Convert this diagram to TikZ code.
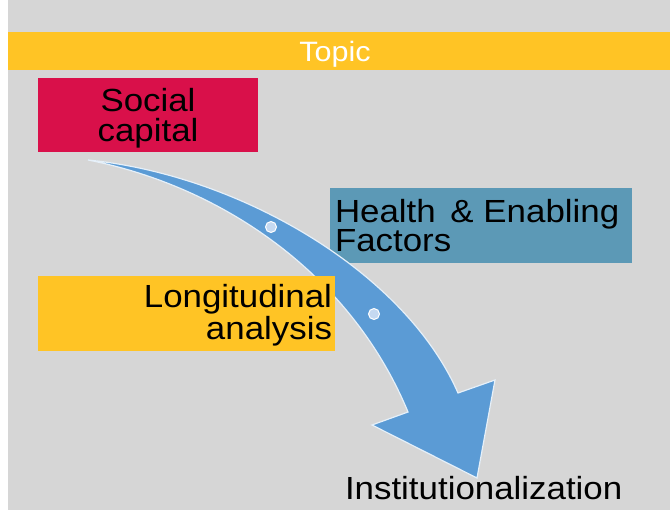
\documentclass[tikz,border=0pt]{standalone}
\usepackage{fontspec}
\setmainfont{Liberation Sans}[FakeStretch=1.09]
\definecolor{bggray}{HTML}{D6D6D6}
\definecolor{topicyel}{HTML}{FFC425}
\definecolor{crimson}{HTML}{D9104A}
\definecolor{steel}{HTML}{5C99B6}
\definecolor{arrowblue}{HTML}{5B9BD5}
\definecolor{dotfill}{HTML}{C5D9F1}
\begin{document}
\begin{tikzpicture}[x=1pt,y=-1pt,
  panel/.style={inner sep=0, outer sep=0, anchor=north west},
  bigtext/.style={inner sep=0, outer sep=0, text=black, font=\fontsize{32}{30}\selectfont},
  stepdot/.style={circle, fill=dotfill, draw=white, line width=1pt, minimum size=11pt, inner sep=0}]
\useasboundingbox (0,0) rectangle (670,510);
\fill[white] (0,0) rectangle (670,510);
\fill[bggray] (8,0) rectangle (670,510);
% topic bar
\node[panel, fill=topicyel, minimum width=662pt, minimum height=38pt] (topicbar) at (8,32) {};
\node[inner sep=0, text=white, font=\fontsize{28}{30}\selectfont, anchor=base] (topic) at (335,62) {Topic};
% social capital
\node[panel, fill=crimson, minimum width=220pt, minimum height=74pt] (social) at (38,78) {};
\node[bigtext, anchor=base] (socialA) at (148,112) {Social};
\node[bigtext, anchor=base] (socialB) at (148,142) {capital};
% health box
\node[panel, fill=steel, minimum width=302pt, minimum height=75pt] (health) at (330,188) {};
\node[bigtext, anchor=base west] (healthA) at (335,223) {Health\hspace{5pt} \& Enabling};
\node[bigtext, anchor=base west] (healthB) at (335,252) {Factors};
% arrow
\coordinate (tail) at (88,160);
\coordinate (jr) at (458,393);
\coordinate (hr) at (495,380);
\coordinate (tip) at (477,478);
\coordinate (hl) at (372,425);
\coordinate (jl) at (408,412);
\fill[arrowblue, draw=white!85!arrowblue, line width=1.2pt, line join=miter]
  (tail) .. controls (240,175) and (405,272) .. (jr)
  -- (hr) -- (tip) -- (hl) -- (jl)
  .. controls (350,272) and (220,186) .. (tail) -- cycle;
\node[stepdot] (dot1) at (271,227) {};
\node[stepdot] (dot2) at (374,314) {};
% longitudinal box
\node[panel, fill=topicyel, minimum width=297pt, minimum height=75pt] (longi) at (38,276) {};
\node[bigtext, anchor=base east] (longiA) at (332,308) {Longitudinal};
\node[bigtext, anchor=base east] (longiB) at (332,340) {analysis};
% target
\node[bigtext, anchor=base west] (inst) at (345,500) {Institutionalization};
\end{tikzpicture}
\end{document}
